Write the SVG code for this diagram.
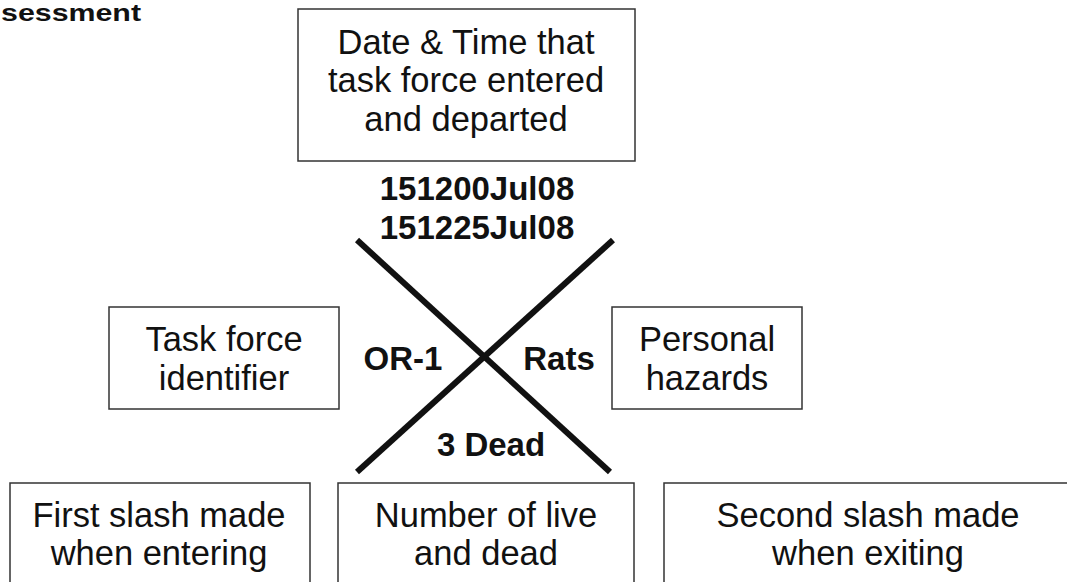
<svg xmlns="http://www.w3.org/2000/svg" width="1067" height="582" viewBox="0 0 1067 582">
<style>
.box{fill:#fff;stroke:#333;stroke-width:1.5}
.t{font-family:"Liberation Sans",Arial,sans-serif;font-size:34.5px;fill:#111;text-anchor:middle}
.b{font-family:"Liberation Sans",Arial,sans-serif;font-weight:bold;font-size:33px;fill:#111;text-anchor:middle}
.x{stroke:#111;stroke-width:6;stroke-linecap:butt}
</style>
<rect width="1067" height="582" fill="#fff"/>
<text x="1" y="21" font-family="Liberation Sans,Arial,sans-serif" font-weight="bold" font-size="24" fill="#111" textLength="140" lengthAdjust="spacingAndGlyphs">sessment</text>
<g id="connectors">
<line class="x" x1="357" y1="240" x2="610" y2="472"/>
<line class="x" x1="613" y1="240" x2="357" y2="472"/>
</g>
<g id="top">
<rect class="box" x="298" y="9" width="337" height="152"/>
<text class="t" x="466" y="54">Date &amp; Time that</text>
<text class="t" x="466" y="92">task force entered</text>
<text class="t" x="466" y="131">and departed</text>
</g>
<g id="dates">
<text class="b" x="477" y="200">151200Jul08</text>
<text class="b" x="477" y="239">151225Jul08</text>
</g>
<g id="left">
<rect class="box" x="109" y="307" width="230" height="102"/>
<text class="t" x="224" y="351">Task force</text>
<text class="t" x="224" y="390">identifier</text>
</g>
<g id="or1"><text class="b" x="403" y="370">OR-1</text></g>
<g id="rats"><text class="b" x="559" y="370">Rats</text></g>
<g id="right">
<rect class="box" x="612" y="307" width="190" height="102"/>
<text class="t" x="707" y="351">Personal</text>
<text class="t" x="707" y="390">hazards</text>
</g>
<g id="dead"><text class="b" x="491" y="456">3 Dead</text></g>
<g id="b1">
<rect class="box" x="10" y="483" width="300" height="120"/>
<text class="t" x="159" y="527">First slash made</text>
<text class="t" x="159" y="565">when entering</text>
</g>
<g id="b2">
<rect class="box" x="338" y="483" width="296" height="120"/>
<text class="t" x="486" y="527">Number of live</text>
<text class="t" x="486" y="565">and dead</text>
</g>
<g id="b3">
<rect class="box" x="664" y="483" width="420" height="120"/>
<text class="t" x="868" y="527">Second slash made</text>
<text class="t" x="868" y="565">when exiting</text>
</g>
</svg>
